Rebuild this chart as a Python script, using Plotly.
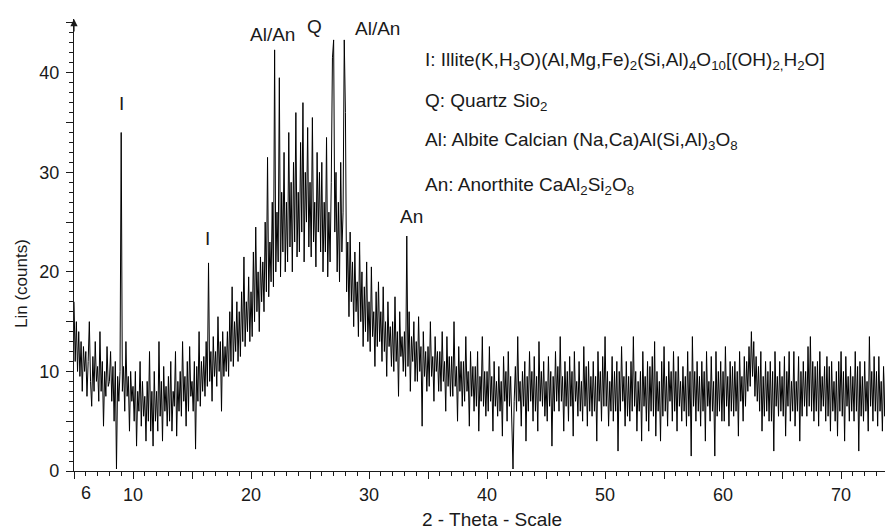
import plotly.graph_objects as go

# 2-theta start and step (10 readings per degree)
theta_start = 5.0
theta_step = 0.1

# intensity readings, one row per degree (5 .. 74)
counts_rows = [
    [17, 11, 15, 10, 14, 9.5, 13, 8, 12.5, 10],            # 5
    [12, 7.5, 11, 15, 9, 6.5, 11.5, 8, 13, 9],             # 6
    [10.5, 7, 14, 8, 11, 4.5, 10, 7.5, 12.5, 8.5],         # 7
    [9, 12, 7, 10.5, 5, 11, 0.2, 9.5, 7, 10],              # 8
    [34, 8, 10.5, 6, 13, 7.5, 9.5, 4, 10, 7],              # 9
    [8.5, 5, 10, 2.5, 8, 6, 11, 4.5, 9, 5.5],              # 10
    [7.5, 3, 9, 5, 12, 4, 8, 2.5, 10, 5],                  # 11
    [8, 4, 13, 5.5, 9, 3, 10.5, 6, 8.5, 4.5],              # 12
    [9.5, 5, 11, 4, 8, 6.5, 12, 3.5, 9, 6],                # 13
    [10, 5.5, 13, 7, 9.5, 4.5, 11, 6, 12.5, 7.5],          # 14
    [9, 6, 11, 2.2, 10.5, 7, 14, 6.5, 11, 8],              # 15
    [11.5, 7.5, 13, 8.5, 20.9, 9, 12, 7, 13.5, 9.5],       # 16
    [12, 8.5, 15.5, 10, 13, 6, 14, 9.5, 12.5, 10],         # 17
    [14, 9.5, 16, 11, 18.5, 10.5, 15, 12, 17, 11],         # 18
    [16, 11.5, 18, 13, 21.5, 12.5, 17, 14, 19.5, 13],      # 19
    [18, 13.5, 22, 15, 24.5, 16, 20, 14, 21.5, 17],        # 20
    [21, 16, 25, 18, 31.5, 17.5, 23, 19, 27, 18.5],        # 21
    [42.3, 20, 26, 21, 39.5, 19.5, 28, 22, 32, 20],        # 22
    [27, 21, 34, 22.5, 29, 20, 31, 23, 36, 21.5],          # 23
    [28, 22, 33, 24, 37, 21, 30, 25, 34.5, 22.5],          # 24
    [29, 21.5, 35.5, 23, 27, 20.5, 32, 24, 30, 22],        # 25
    [31, 20, 27, 22, 33.5, 19.5, 26, 21, 29, 41.5],        # 26
    [43.3, 24, 30, 20, 27, 19, 31, 22, 26, 43.3],          # 27
    [36, 18, 23, 15.5, 24, 17, 21, 14.5, 22, 16],          # 28
    [19, 13.5, 23, 15, 20, 12.5, 18.5, 14, 21, 13],        # 29
    [17, 12, 20.5, 13.5, 16, 10.5, 18, 12.5, 19, 13],      # 30
    [16, 11, 18.5, 12, 15, 9.5, 17, 12.5, 14.5, 10.5],     # 31
    [15, 10, 17.5, 11, 14, 7.5, 16, 11.5, 13.5, 10],       # 32
    [14, 9.5, 23.6, 10.5, 16, 8, 13.5, 11, 15, 9],         # 33
    [13, 9, 15.5, 10, 12.5, 4.5, 14, 9.5, 12, 8],          # 34
    [12.5, 8.5, 15, 9.5, 11.5, 7, 13.5, 10, 12, 8],        # 35
    [12, 8, 14, 9, 11, 6, 13.5, 8.5, 11.5, 7.5],           # 36
    [11.5, 7.5, 15, 8.5, 10.5, 5, 12.5, 8, 11, 6.5],       # 37
    [11, 7, 13.5, 8, 10, 4.5, 12, 7.5, 10.5, 6],           # 38
    [10.5, 6.5, 12, 4, 9.5, 7, 13.5, 6.5, 10, 5.5],        # 39
    [10, 6, 12.5, 7, 9.5, 4, 11, 6.5, 9, 5.5],             # 40
    [10.5, 6, 9, 3.5, 11.5, 7, 10, 5, 12, 6.5],            # 41
    [9.5, 5.5, 0.2, 7, 10.5, 6, 13.5, 7, 9, 4.5],          # 42
    [10, 6.5, 11, 3, 9.5, 6, 12, 7, 10, 5],                # 43
    [11.5, 6, 9.5, 4, 13, 7, 10, 6.5, 11, 5.5],            # 44
    [9, 5, 11.5, 6.5, 10, 2.5, 9.5, 6, 12, 7],             # 45
    [10.5, 6, 13.5, 7, 9.5, 4, 11, 6.5, 10, 5],            # 46
    [11.5, 6.5, 10, 3.5, 12, 7, 9, 5.5, 11, 6],            # 47
    [9, 5, 12.5, 6.5, 10.5, 4.5, 11, 6, 9.5, 5.5],         # 48
    [11, 6, 9.5, 3, 12, 7, 10, 5, 11.5, 6.5],              # 49
    [13.5, 6.5, 10, 4.5, 9, 6, 11.5, 5, 10, 6],            # 50
    [11, 2, 10, 6, 12.5, 7, 9.5, 4.5, 11, 5.5],            # 51
    [9.5, 5, 11, 6, 13.5, 6.5, 10, 4, 9, 6],               # 52
    [10, 3, 12, 6.5, 9.5, 5, 11, 4, 10.5, 6],              # 53
    [11.5, 5.5, 13, 3.5, 10, 6, 9, 3, 11, 5.5],            # 54
    [12.5, 6, 9.5, 4.5, 11, 7, 10, 5, 12, 6],              # 55
    [10, 4, 11.5, 6.5, 9, 5, 10.5, 6, 9.5, 4.5],           # 56
    [12, 5.5, 10, 1.5, 13.5, 6.5, 10, 5, 11, 6],           # 57
    [9.5, 4.5, 11, 6, 10, 3, 12, 6.5, 9, 5],               # 58
    [11.5, 6, 9, 1.5, 12, 5.5, 10, 6, 11, 5],              # 59
    [10, 5, 12.5, 6.5, 9.5, 4.5, 11, 6, 10.5, 5.5],        # 60
    [11, 6, 10, 3.5, 12, 7, 9.5, 5, 11.5, 6.5],            # 61
    [11, 8, 12.5, 8.5, 14, 9.5, 13, 7.5, 11.5, 7],         # 62
    [10.5, 6, 12, 4, 9.5, 5.5, 11, 6, 10, 5],              # 63
    [11, 5, 10, 2, 12, 6.5, 9.5, 5.5, 11, 6],              # 64
    [9.5, 5.5, 11.5, 3.5, 10, 6.5, 12, 5, 9, 6],           # 65
    [12, 4.5, 9, 6, 11.5, 3, 10, 5.5, 11, 6.5],            # 66
    [10, 5.5, 12.5, 6.5, 13.5, 6, 11, 5, 10.5, 6],         # 67
    [11, 4.5, 12, 6, 9.5, 6.5, 10.5, 5, 11.5, 5.5],        # 68
    [10.5, 4, 11, 6, 9, 5, 10, 3.5, 11, 6],                # 69
    [12, 5.5, 10, 3, 11.5, 6.5, 9.5, 5, 10.5, 6],          # 70
    [9.5, 5, 12, 6, 10.5, 2, 11, 5.5, 9.5, 5],             # 71
    [11, 6, 9, 4, 13.5, 6.5, 10, 5, 11.5, 6],              # 72
    [10, 4.5, 11.5, 6, 9, 4, 10.5, 5.5, 12.5, 0.6],        # 73
    [11, 5, 10, 6, 11.5, 5, 10, 6, 9.5, 5],                # 74
]

x_tick_vals = [5, 10, 15, 20, 25, 30, 35, 40, 45, 50, 55, 60, 65, 70]
x_tick_text = ["", "10", "", "20", "", "30", "", "40", "", "50", "", "60", "", "70"]
y_tick_vals = [0, 5, 10, 15, 20, 25, 30, 35, 40, 45]
y_tick_text = ["0", "", "10", "", "20", "", "30", "", "40", ""]

peak_labels = ["I", "I", "Al/An", "Q", "Al/An", "An"]
peak_label_x = [9.0, 16.35, 21.78, 25.42, 30.68, 33.56]
peak_label_y = [36.9, 23.4, 43.8, 44.6, 44.4, 25.6]

phase_legend = [
    "I: Illite(K,H<sub>3</sub>O)(Al,Mg,Fe)<sub>2</sub>(Si,Al)<sub>4</sub>O<sub>10</sub>[(OH)<sub>2,</sub>H<sub>2</sub>O]",
    "Q: Quartz Sio<sub>2</sub>",
    "Al: Albite Calcian (Na,Ca)Al(Si,Al)<sub>3</sub>O<sub>8</sub>",
    "An: Anorthite CaAl<sub>2</sub>Si<sub>2</sub>O<sub>8</sub>",
]
phase_legend_y = [41.2, 37.1, 33.1, 28.6]

counts = [v for row in counts_rows for v in row]
theta = [theta_start + i * theta_step for i in range(len(counts))]

FONT = "Liberation Sans, Arial, Helvetica, sans-serif"
INK = "#1a1a1a"

fig = go.Figure()
fig.add_trace(go.Scatter(x=theta, y=counts, mode="lines",
                         line=dict(color="#000000", width=1),
                         hoverinfo="skip", showlegend=False))

annotations = []
for t, x, y in zip(peak_labels, peak_label_x, peak_label_y):
    annotations.append(dict(x=x, y=y, xref="x", yref="y", text=t, showarrow=False,
                            xanchor="center", yanchor="middle",
                            font=dict(family=FONT, size=19, color=INK)))
for t, y in zip(phase_legend, phase_legend_y):
    annotations.append(dict(x=34.55, y=y, xref="x", yref="y", text=t, showarrow=False,
                            xanchor="left", yanchor="middle",
                            font=dict(family=FONT, size=19, color=INK)))
# "6" tick label
annotations.append(dict(x=6, y=0, xref="x", yref="paper", text="6", showarrow=False,
                        xanchor="center", yanchor="top", yshift=-10,
                        font=dict(family=FONT, size=18, color=INK)))
# axis titles
annotations.append(dict(x=-0.0635, y=0.416, xref="paper", yref="paper", text="Lin (counts)",
                        textangle=-90, showarrow=False, xanchor="center", yanchor="middle",
                        font=dict(family=FONT, size=17, color=INK)))
annotations.append(dict(x=0.51, y=-0.108, xref="paper", yref="paper", text="2 - Theta - Scale",
                        showarrow=False, xanchor="center", yanchor="middle",
                        font=dict(family=FONT, size=19, color=INK)))
# y-axis arrow head
annotations.append(dict(x=5, y=1, xref="x", yref="paper", ax=0, ay=14, text="",
                        showarrow=True, arrowhead=2, arrowsize=1.2, arrowwidth=1.2,
                        arrowcolor=INK))

# the page body adds an 8 px offset, so the figure is sized to fit the window
fig.update_layout(
    width=885, height=522,
    margin=dict(l=66, r=0, t=11, b=59),
    paper_bgcolor="white", plot_bgcolor="white",
    annotations=annotations,
    showlegend=False,
)
fig.update_xaxes(range=[5, 74.4], showgrid=False, zeroline=False, automargin=False,
                 showline=True, linecolor=INK, linewidth=1.2,
                 ticks="outside", ticklen=7, tickwidth=1.2, tickcolor=INK,
                 tickvals=x_tick_vals, ticktext=x_tick_text,
                 tickfont=dict(family=FONT, size=18, color=INK),
                 minor=dict(dtick=1, ticks="outside", ticklen=4, tickcolor=INK, tickwidth=1))
fig.update_yaxes(range=[0, 45.4], showgrid=False, zeroline=False, automargin=False,
                 showline=True, linecolor=INK, linewidth=1.2,
                 ticks="outside", ticklen=7, tickwidth=1.2, tickcolor=INK,
                 tickvals=y_tick_vals, ticktext=y_tick_text, ticklabelstandoff=3,
                 tickfont=dict(family=FONT, size=18, color=INK),
                 minor=dict(dtick=1, ticks="outside", ticklen=4, tickcolor=INK, tickwidth=1))

fig.write_html("out.html")
